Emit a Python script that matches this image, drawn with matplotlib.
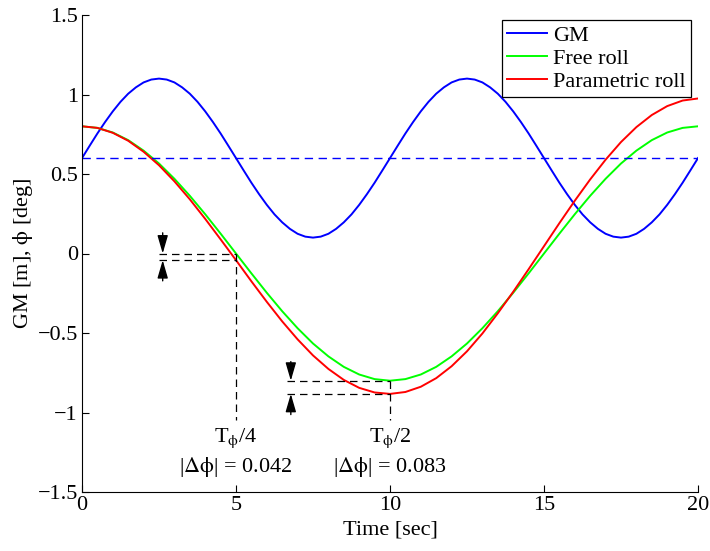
import numpy as np
import matplotlib
matplotlib.use("Agg")
import matplotlib.pyplot as plt

plt.rcParams['font.family'] = ['Liberation Serif', 'DejaVu Serif']
plt.rcParams['mathtext.fontset'] = 'stix'

# ---------------- data ----------------
t_gm = np.linspace(0, 20, 81)
gm = [0.600, 0.678, 0.755, 0.827, 0.894, 0.954, 1.005, 1.045, 1.076, 1.094,
      1.100, 1.094, 1.076, 1.045, 1.005, 0.954, 0.894, 0.827, 0.755, 0.678,
      0.600, 0.522, 0.445, 0.373, 0.306, 0.246, 0.196, 0.155, 0.124, 0.106,
      0.100, 0.106, 0.124, 0.155, 0.196, 0.246, 0.306, 0.373, 0.445, 0.522,
      0.600, 0.678, 0.755, 0.827, 0.894, 0.954, 1.005, 1.045, 1.076, 1.094,
      1.100, 1.094, 1.076, 1.045, 1.005, 0.954, 0.894, 0.827, 0.755, 0.678,
      0.600, 0.522, 0.445, 0.373, 0.306, 0.246, 0.196, 0.155, 0.124, 0.106,
      0.100, 0.106, 0.124, 0.155, 0.196, 0.246, 0.306, 0.373, 0.445, 0.522,
      0.600]
gm_mean = 0.6

t_roll = np.linspace(0, 20, 41)
free_roll = [0.800, 0.790, 0.761, 0.713, 0.647, 0.566, 0.470, 0.363, 0.247, 0.125,
             0.000, -0.125, -0.247, -0.363, -0.470, -0.566, -0.647, -0.713, -0.761, -0.790,
             -0.800, -0.790, -0.761, -0.713, -0.647, -0.566, -0.470, -0.363, -0.247, -0.125,
             0.000, 0.125, 0.247, 0.363, 0.470, 0.566, 0.647, 0.713, 0.761, 0.790,
             0.800]
param_roll = [0.800, 0.790, 0.759, 0.709, 0.640, 0.555, 0.454, 0.341, 0.218, 0.089,
              -0.042, -0.175, -0.304, -0.427, -0.540, -0.641, -0.726, -0.795, -0.845, -0.874,
              -0.883, -0.871, -0.838, -0.784, -0.709, -0.615, -0.503, -0.376, -0.241, -0.099,
              0.046, 0.191, 0.332, 0.466, 0.590, 0.701, 0.795, 0.871, 0.927, 0.962,
              0.975]

# annotation values
t_quarter, free_q, param_q = 5.0, 0.0, -0.042
t_half, free_h, param_h = 10.0, -0.800, -0.883
label_q = r'T$_{\mathrm{\phi}}$/4'
label_h = r'T$_{\mathrm{\phi}}$/2'
delta_q = r'|$\mathrm{\Delta\phi}$| = 0.042'
delta_h = r'|$\mathrm{\Delta\phi}$| = 0.083'

xticks = [0, 5, 10, 15, 20]
yticks = [-1.5, -1, -0.5, 0, 0.5, 1, 1.5]
ytick_labels = ['\u22121.5', '\u22121', '\u22120.5', '0', '0.5', '1', '1.5']

# ---------------- figure ----------------
fig = plt.figure(figsize=(7.1, 5.51), dpi=100)
ax = fig.add_axes([82/710, 1-492/551, 616/710, 477/551])

FS = 16
lw = 1.4
ax.plot(t_gm, gm, color=(0, 0, 1), lw=lw, label='GM')
ax.plot(t_roll, free_roll, color=(0, 1, 0), lw=lw, label='Free roll')
ax.plot(t_roll, param_roll, color=(1, 0, 0), lw=lw, label='Parametric roll')
ax.axhline(gm_mean, color=(0, 0, 1), lw=1.0, dashes=(6, 4))

dk = dict(color='k', lw=0.9, dashes=(6, 4))
ax.plot([2.5, t_quarter], [free_q, free_q], **dk)
ax.plot([2.5, t_quarter], [param_q, param_q], **dk)
ax.plot([t_quarter, t_quarter], [free_q, -1.05], **dk)
ax.plot([6.65, t_half], [free_h, free_h], **dk)
ax.plot([6.65, t_half], [param_h, param_h], **dk)
ax.plot([t_half, t_half], [free_h, -1.05], **dk)

ap = dict(arrowstyle='-|>,head_length=0.55,head_width=0.16', color='k', lw=1.0,
          mutation_scale=20, shrinkA=0, shrinkB=0)
ax.annotate('', xy=(2.62, free_q), xytext=(2.62, free_q + 0.13), arrowprops=ap)
ax.annotate('', xy=(2.62, param_q), xytext=(2.62, param_q - 0.13), arrowprops=ap)
ax.annotate('', xy=(6.78, free_h), xytext=(6.78, free_h + 0.12), arrowprops=ap)
ax.annotate('', xy=(6.78, param_h), xytext=(6.78, param_h - 0.13), arrowprops=ap)

ax.text(t_quarter, -1.165, label_q, ha='center', va='center', fontsize=FS)
ax.text(t_quarter, -1.34, delta_q, ha='center', va='center', fontsize=FS)
ax.text(t_half, -1.165, label_h, ha='center', va='center', fontsize=FS)
ax.text(t_half, -1.34, delta_h, ha='center', va='center', fontsize=FS)

ax.set_xlim(0, 20)
ax.set_ylim(-1.5, 1.5)
ax.set_xticks(xticks)
ax.set_xticklabels([str(v) for v in xticks])
ax.set_yticks(yticks)
ax.set_yticklabels(ytick_labels)
ax.tick_params(direction='in', length=5, width=0.8, labelsize=FS, pad=3)
for s in ['top', 'right']:
    ax.spines[s].set_visible(False)
for s in ['left', 'bottom']:
    ax.spines[s].set_linewidth(0.8)

ax.set_xlabel('Time [sec]', fontsize=FS, labelpad=4)
ax.set_ylabel(r'GM [m], $\mathrm{\phi}$ [deg]', fontsize=FS, labelpad=2)

leg = ax.legend(loc='upper right', bbox_to_anchor=(609/616, 472/477), borderaxespad=0,
                fontsize=FS, fancybox=False, framealpha=1, edgecolor='k',
                handlelength=1.8, handletextpad=0.25, labelspacing=0.1, borderpad=0.25)
leg.get_frame().set_linewidth(0.9)

fig.savefig('out.png', dpi=100)
